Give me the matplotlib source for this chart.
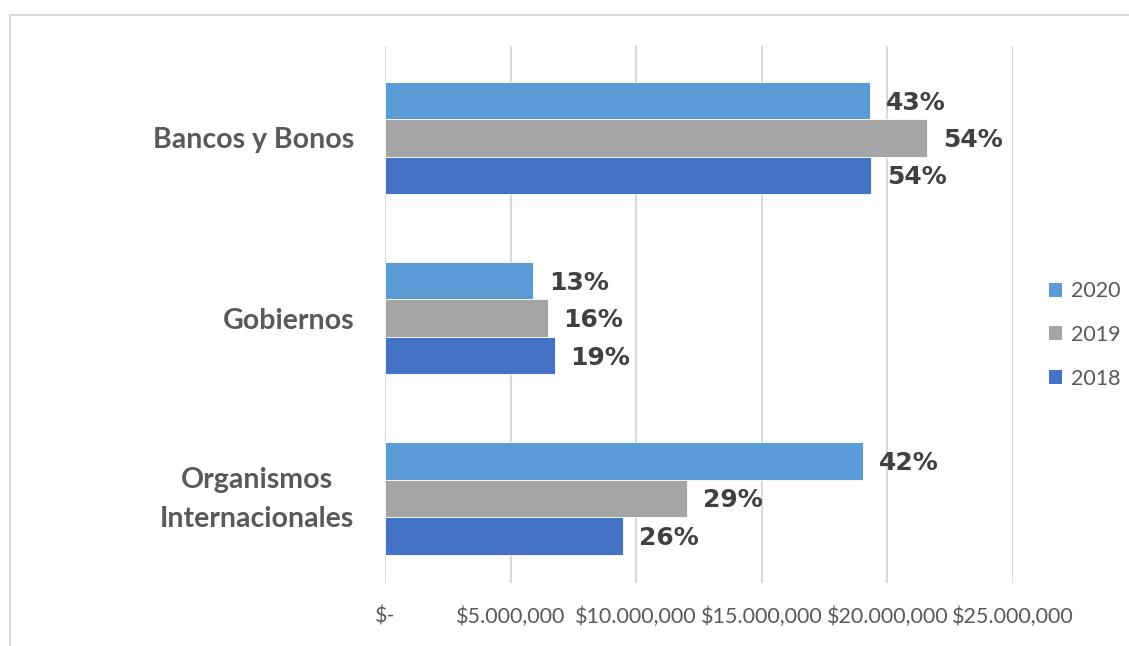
import matplotlib
matplotlib.use("Agg")
import matplotlib.pyplot as plt
from matplotlib.lines import Line2D
from matplotlib.patches import Patch
from matplotlib.ticker import FixedLocator
from matplotlib.transforms import ScaledTranslation

# Data
categories = ["Organismos\nInternacionales", "Gobiernos", "Bancos y Bonos"]
years = ["2020", "2019", "2018"]
values = {
    "2020": [19_040_000, 5_890_000, 19_300_000],
    "2019": [12_020_000, 6_470_000, 21_570_000],
    "2018": [9_470_000, 6_750_000, 19_340_000],
}
share_labels = {
    "2020": ["42%", "13%", "43%"],
    "2019": ["29%", "16%", "54%"],
    "2018": ["26%", "19%", "54%"],
}
x_ticks = [0, 5_000_000, 10_000_000, 15_000_000, 20_000_000, 25_000_000]
x_tick_labels = ["$-", "$5.000,000", "$10.000,000", "$15.000,000",
                 "$20.000,000", "$25.000,000"]
colors = {"2020": "#5B9BD5", "2019": "#A5A5A5", "2018": "#4472C4"}

W, H = 1129, 646
fig = plt.figure(figsize=(W / 100, H / 100), dpi=100)
fig.patch.set_facecolor("white")

# Outer chart frame
frame_kw = dict(color="#D9D9D9", linewidth=1.5, transform=fig.transFigure)
fig.add_artist(Line2D([10 / W, 1.0], [1 - 15 / H, 1 - 15 / H], **frame_kw))
fig.add_artist(Line2D([10 / W, 10 / W], [1 - 15 / H, 0.0], **frame_kw))

left, right, top, bottom = 385, 1013, 46, 583
ax = fig.add_axes([left / W, 1 - bottom / H, (right - left) / W, (bottom - top) / H])

bar_h = 0.208
offsets = {"2020": bar_h, "2019": 0.0, "2018": -bar_h}
pos = list(range(len(categories)))

for yr in years:
    ys = [p + offsets[yr] for p in pos]
    bars = ax.barh(ys, values[yr], height=bar_h, color=colors[yr],
                   edgecolor="white", linewidth=0.6, label=yr, zorder=3)
    for b, lab in zip(bars, share_labels[yr]):
        ax.annotate(lab, (b.get_width(), b.get_y() + b.get_height() / 2),
                    xytext=(11.5, -1.5), textcoords="offset points",
                    ha="left", va="center", fontsize=18, fontweight="bold",
                    family="DejaVu Sans", color="#404040", zorder=4)

ax.set_xlim(0, 25_000_000)
ax.set_ylim(-0.47, 2.51)
ax.xaxis.set_major_locator(FixedLocator(x_ticks))
ax.set_xticklabels(x_tick_labels, family="Lato", fontsize=15.5, color="#595959")
ax.set_yticks(pos)
ax.set_yticklabels(categories, family="Lato", fontsize=20.5, fontweight="bold",
                   color="#595959", multialignment="center", linespacing=1.62)
ax.tick_params(axis="x", length=0, pad=17)
ax.tick_params(axis="y", length=0, pad=22)
ax.grid(axis="x", color="#D9D9D9", linewidth=1.5, zorder=0)
for s in ax.spines.values():
    s.set_visible(False)

# Lift the two-line category label so its block sits centred on its group
two_line = ax.get_yticklabels()[0]
two_line.set_transform(two_line.get_transform()
                       + ScaledTranslation(0, 8 / 100, fig.dpi_scale_trans))

handles = [Patch(facecolor=colors[y], edgecolor="none", label=y) for y in years]
leg = fig.legend(handles=handles, loc="center left",
                 bbox_to_anchor=(1049 / W, 1 - 335 / H), frameon=False,
                 prop={"family": "Lato", "size": 15.5},
                 handlelength=0.62, handleheight=0.62, handletextpad=0.4,
                 labelspacing=1.1, borderaxespad=0, borderpad=0)
for t in leg.get_texts():
    t.set_color("#595959")

fig.savefig("out.png", dpi=100, facecolor="white")
